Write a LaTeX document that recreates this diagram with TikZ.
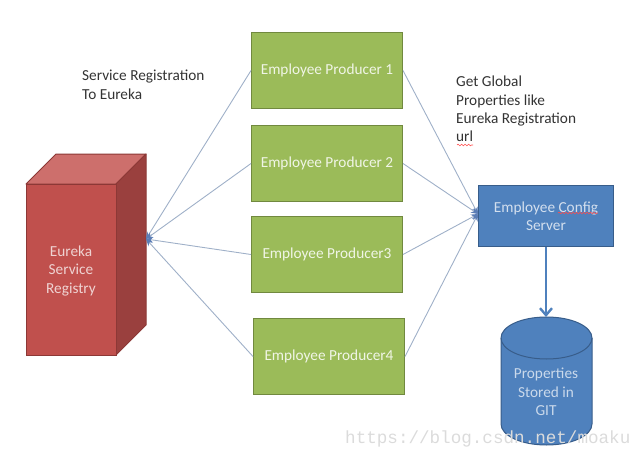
\documentclass[tikz,border=0pt]{standalone}
\usepackage{fontspec}
\setmainfont{Carlito}
\newfontfamily\wmfont{Liberation Mono}
\usetikzlibrary{arrows.meta,decorations.pathmorphing}
\definecolor{grn}{HTML}{9BBB59}
\definecolor{grnline}{HTML}{71893F}
\definecolor{redf}{HTML}{C0504D}
\definecolor{redtop}{HTML}{CD6F6C}
\definecolor{redside}{HTML}{9A403E}
\definecolor{redline}{HTML}{8C3836}
\definecolor{bluef}{HTML}{4F81BD}
\definecolor{blueline}{HTML}{385D8A}
\definecolor{conn}{HTML}{9FB0C8}
\definecolor{tipc}{HTML}{5B7DB5}
\tikzset{
  x=1pt,y=-1pt,
  every node/.style={font=\fontsize{15.3}{18.3}\selectfont},
  producer/.style={draw=grnline,line width=1pt,fill=grn,text=white!85!grn,minimum width=151pt,minimum height=76pt,inner sep=0pt,anchor=north west},
  configbox/.style={draw=blueline,line width=1pt,fill=bluef,text=white!75!bluef,minimum width=135pt,minimum height=61pt,inner sep=0pt,anchor=north west,align=center},
  shapetext/.style={align=center,inner sep=0pt},
  label/.style={align=left,text=black!80,inner sep=0pt,anchor=north west},
  link/.style={draw=conn,line width=0.9pt,-{Stealth[length=7pt,width=6pt,color=tipc]}},
  storelink/.style={draw=bluef,line width=2.4pt,-{Straight Barb[length=7pt,width=12pt]}},
  squiggle/.style={draw=red!70!white,line width=0.6pt,decorate,decoration={snake,amplitude=0.8pt,segment length=3.5pt}},
  watermark/.style={font=\wmfont\fontsize{17.6}{20}\selectfont,text=black!14,inner sep=0pt,anchor=base west}
}
\begin{document}
\begin{tikzpicture}
\useasboundingbox (0,0) rectangle (633,455);
\clip (0,0) rectangle (633,455);
% registry cuboid
\fill[redtop,draw=redline,line width=1pt,line join=round] (26,184) -- (56,154) -- (146,154) -- (116,184) -- cycle;
\fill[redside,draw=redline,line width=1pt,line join=round] (116,184) -- (146,154) -- (146,325) -- (116,355) -- cycle;
\node[draw=redline,line width=1pt,fill=redf,minimum width=90pt,minimum height=171pt,inner sep=0pt,anchor=north west] (front) at (26,184) {};
\node[shapetext,text=white!75!redf] (regtext) at (71,271) {Eureka\\Service\\Registry};
\coordinate (regport) at (146,239);
% producers
\node[producer] (p1) at (251,32) {Employee Producer 1};
\node[producer] (p2) at (251,125) {Employee Producer 2};
\node[producer] (p3) at (251,216) {Employee Producer3};
\node[producer] (p4) at (253,318) {Employee Producer4};
% config
\node[configbox] (config) at (478,185) {Employee Config\\Server};
\coordinate (cfgport) at (478,214);
% store
\fill[bluef,draw=blueline,line width=1pt] (501,338) .. controls (501,326.4) and (520.9,317) .. (546.5,317) .. controls (572.1,317) and (592,326.4) .. (592,338) -- (592,424) .. controls (592,435.6) and (572.1,445) .. (546.5,445) .. controls (520.9,445) and (501,435.6) .. (501,424) -- cycle;
\draw[blueline,line width=1pt] (501,338) .. controls (501,349.6) and (520.9,359) .. (546.5,359) .. controls (572.1,359) and (592,349.6) .. (592,338);
\coordinate (storetop) at (546,317);
\node[shapetext,text=white!70!bluef] (store) at (546,392) {Properties\\Stored in\\GIT};
% connectors
\foreach \p in {p1,p2,p3,p4} {
  \draw[link] (\p.west) -- (regport);
  \draw[link] (\p.east) -- (cfgport);
}
\draw[storelink] (config.south -| storetop) -- (storetop);
% labels
\node[label] (reg) at (82,70) {Service Registration\\To Eureka};
\node[label] (glob) at (456,76) {Get Global\\Properties like\\Eureka Registration\\url};
\draw[squiggle] (457,145) -- (473,145);
\draw[squiggle] (558,213) -- (598,213);
\node[watermark] (wm) at (345,443) {https://blog.csdn.net/moaku};
\end{tikzpicture}
\end{document}
